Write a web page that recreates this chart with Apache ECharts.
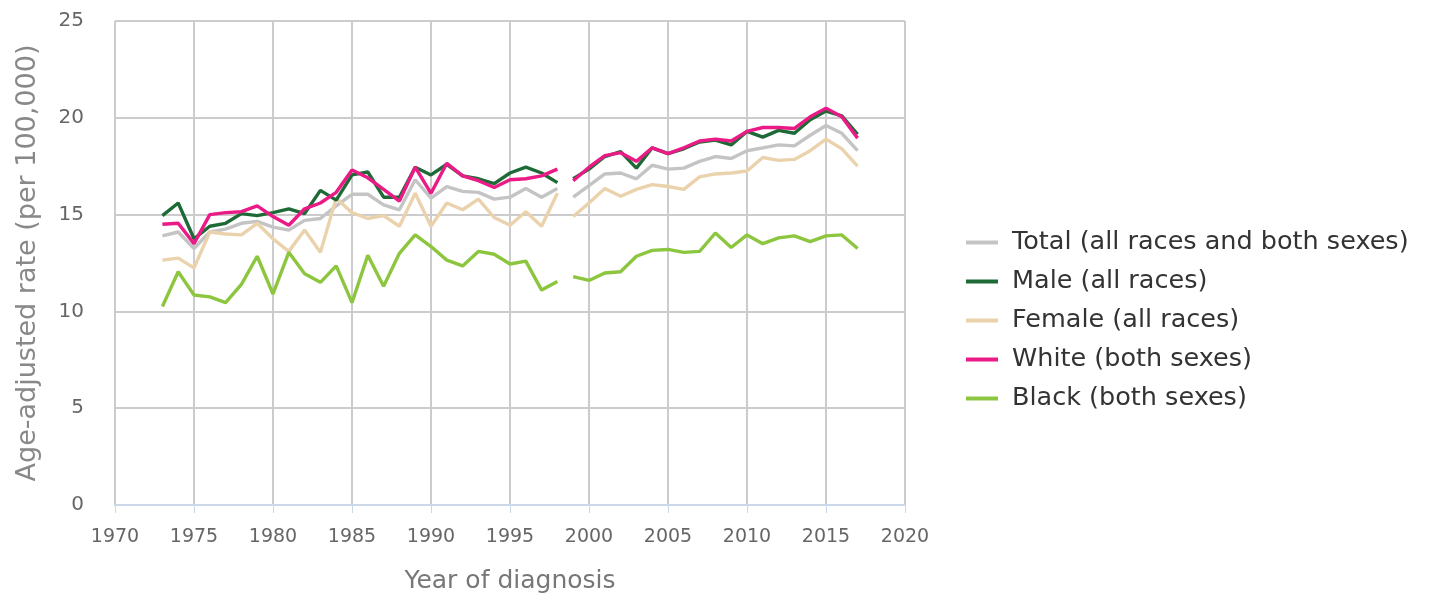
<!DOCTYPE html>
<html>
<head>
<meta charset="utf-8">
<script src="https://cdn.jsdelivr.net/npm/echarts@6/dist/echarts.min.js"></script>
<style>
html,body{margin:0;padding:0;background:#fff;}
#chart{width:1429px;height:602px;}
</style>
</head>
<body>
<div id="chart"></div>
<script>
// Years for the two segments (line is broken between 1998 and 1999)
const yearsA = [1973,1974,1975,1976,1977,1978,1979,1980,1981,1982,1983,1984,1985,1986,1987,1988,1989,1990,1991,1992,1993,1994,1995,1996,1997,1998];
const yearsB = [1999,2000,2001,2002,2003,2004,2005,2006,2007,2008,2009,2010,2011,2012,2013,2014,2015,2016,2017];

const seriesNames = ["Total (all races and both sexes)","Male (all races)","Female (all races)","White (both sexes)","Black (both sexes)"];

const totalA  = [13.9,14.1,13.25,14.1,14.25,14.55,14.65,14.35,14.2,14.7,14.8,15.45,16.05,16.05,15.5,15.25,16.8,15.85,16.45,16.2,16.15,15.8,15.9,16.35,15.9,16.35];
const totalB  = [15.9,16.5,17.1,17.15,16.85,17.55,17.35,17.4,17.75,18.0,17.9,18.3,18.45,18.6,18.55,19.1,19.6,19.2,18.3];

const maleA   = [14.95,15.6,13.75,14.4,14.55,15.05,14.95,15.1,15.3,15.05,16.25,15.75,17.05,17.2,15.9,15.9,17.45,17.05,17.6,17.0,16.85,16.6,17.15,17.45,17.15,16.65];
const maleB   = [16.85,17.35,18.0,18.25,17.4,18.45,18.15,18.4,18.75,18.85,18.6,19.3,19.0,19.35,19.2,19.9,20.35,20.1,19.15];

const femaleA = [12.65,12.75,12.25,14.1,14.0,13.95,14.55,13.75,13.1,14.2,13.05,15.85,15.1,14.8,14.95,14.4,16.1,14.4,15.6,15.25,15.8,14.85,14.45,15.15,14.4,16.1];
const femaleB = [14.9,15.6,16.35,15.95,16.3,16.55,16.45,16.3,16.95,17.1,17.15,17.25,17.95,17.8,17.85,18.3,18.9,18.4,17.5];

const whiteA  = [14.5,14.55,13.5,15.0,15.1,15.15,15.45,14.9,14.45,15.3,15.6,16.15,17.3,16.9,16.3,15.7,17.45,16.1,17.65,17.0,16.75,16.4,16.8,16.85,17.0,17.35];
const whiteB  = [16.75,17.45,18.05,18.2,17.75,18.45,18.15,18.45,18.8,18.9,18.8,19.3,19.5,19.5,19.45,20.05,20.5,20.05,18.95];

const blackA  = [10.25,12.05,10.85,10.75,10.45,11.4,12.85,10.9,13.05,11.95,11.5,12.35,10.45,12.9,11.3,13.0,13.95,13.35,12.65,12.35,13.1,12.95,12.45,12.6,11.1,11.55];
const blackB  = [11.8,11.6,11.98,12.05,12.85,13.15,13.2,13.05,13.1,14.05,13.3,13.95,13.5,13.8,13.9,13.6,13.9,13.95,13.25];

const colors = ["#c4c4c4","#1d6a36","#ead2ac","#ea1a86","#8cc63e"];

const FONT = "DejaVu Sans";

function pairs(xs, ys){ return xs.map((x,i)=>[x, ys[i]]); }

const groups = [
  [totalA, totalB],
  [maleA, maleB],
  [femaleA, femaleB],
  [whiteA, whiteB],
  [blackA, blackB]
];
const zOrder = [2,3,2,4,2];

const series = [];
groups.forEach((g, gi) => {
  [[yearsA, g[0]], [yearsB, g[1]]].forEach(seg => {
    series.push({
      name: seriesNames[gi],
      type: 'line',
      data: pairs(seg[0], seg[1]),
      showSymbol: false,
      symbol: 'none',
      z: zOrder[gi],
      lineStyle: { color: colors[gi], width: 3.4 },
      itemStyle: { color: colors[gi] },
      emphasis: { disabled: true },
      animation: false
    });
  });
});

const chart = echarts.init(document.getElementById('chart'), null, {renderer: 'canvas'});
chart.setOption({
  animation: false,
  backgroundColor: '#ffffff',
  grid: { left: 115, right: 524, top: 21, bottom: 97, containLabel: false },
  legend: {
    orient: 'vertical',
    left: 961,
    top: 223,
    icon: 'rect',
    itemWidth: 32,
    itemHeight: 4,
    itemGap: 10,
    data: seriesNames,
    textStyle: { fontFamily: FONT, fontSize: 25.5, color: '#333', lineHeight: 29, padding: [0, 0, 0, 9] }
  },
  xAxis: {
    type: 'value',
    min: 1970, max: 2020, interval: 5,
    name: 'Year of diagnosis',
    nameLocation: 'middle',
    nameGap: 64,
    nameTextStyle: { fontFamily: FONT, fontSize: 25, color: '#777' },
    axisLine: { show: true, lineStyle: { color: '#cad8ea', width: 2 } },
    axisTick: { show: true, length: 8, lineStyle: { color: '#cad8ea', width: 1 } },
    axisLabel: { fontFamily: FONT, fontSize: 19, color: '#666', margin: 23, formatter: v => String(v) },
    splitLine: { show: true, lineStyle: { color: '#cccccc', width: 2 } }
  },
  yAxis: {
    type: 'value',
    min: 0, max: 25, interval: 5,
    name: 'Age-adjusted rate (per 100,000)',
    nameLocation: 'middle',
    nameGap: 74,
    nameTextStyle: { fontFamily: FONT, fontSize: 27, color: '#888' },
    axisLine: { show: false },
    axisTick: { show: false },
    axisLabel: { fontFamily: FONT, fontSize: 20, color: '#666', margin: 31 },
    splitLine: { show: true, lineStyle: { color: '#cccccc', width: 2 } }
  },
  series: series
});
</script>
</body>
</html>
